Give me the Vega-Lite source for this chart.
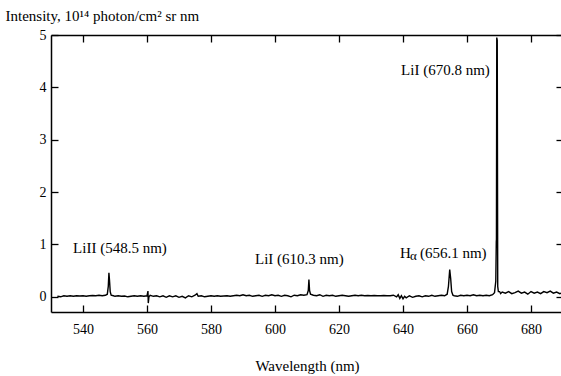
{
  "$schema": "https://vega.github.io/schema/vega-lite/v6.json",
  "autosize": {"type": "none"},
  "padding": {"left": 51, "top": 35, "right": 0, "bottom": 64},
  "width": 512,
  "height": 277,
  "background": "white",
  "config": {
    "view": {"stroke": null},
    "font": "Liberation Serif",
    "axis": {
      "domainColor": "black", "domainWidth": 1.5,
      "tickColor": "black", "tickWidth": 1.3, "tickSize": -7,
      "labelFont": "Liberation Serif", "labelFontSize": 14, "labelColor": "black",
      "titleFont": "Liberation Serif", "titleFontSize": 15, "titleFontWeight": "normal", "titleColor": "black",
      "grid": false
    }
  },
  "datasets": {
    "spectrum": [
      {"wl": 532, "I": 0.01}, {"wl": 533, "I": 0.0}, {"wl": 534, "I": 0.02}, {"wl": 535, "I": 0.01}, {"wl": 536, "I": 0.02},
      {"wl": 537, "I": 0.01}, {"wl": 538, "I": 0.02}, {"wl": 539, "I": 0.015}, {"wl": 540, "I": 0.02}, {"wl": 541, "I": 0.01},
      {"wl": 542, "I": 0.02}, {"wl": 543, "I": 0.025}, {"wl": 544, "I": 0.02}, {"wl": 545, "I": 0.03}, {"wl": 546, "I": 0.02},
      {"wl": 547, "I": 0.03}, {"wl": 547.6, "I": 0.05}, {"wl": 547.9, "I": 0.2}, {"wl": 548.1, "I": 0.46}, {"wl": 548.3, "I": 0.3},
      {"wl": 548.5, "I": 0.1}, {"wl": 548.8, "I": 0.03}, {"wl": 549.5, "I": 0.02}, {"wl": 550, "I": 0.01}, {"wl": 551, "I": 0.02},
      {"wl": 552, "I": 0.01}, {"wl": 553, "I": 0.015}, {"wl": 554, "I": 0.0}, {"wl": 555, "I": 0.01}, {"wl": 556, "I": 0.02},
      {"wl": 557, "I": 0.01}, {"wl": 558, "I": 0.02}, {"wl": 559, "I": 0.01}, {"wl": 560, "I": 0.02}, {"wl": 560.3, "I": 0.11},
      {"wl": 560.4, "I": -0.12}, {"wl": 560.6, "I": 0.0}, {"wl": 561, "I": 0.03}, {"wl": 562, "I": 0.01}, {"wl": 563, "I": 0.02},
      {"wl": 564, "I": 0.0}, {"wl": 565, "I": 0.02}, {"wl": 566, "I": -0.01}, {"wl": 567, "I": 0.02}, {"wl": 568, "I": 0.0},
      {"wl": 569, "I": 0.02}, {"wl": 570, "I": -0.01}, {"wl": 571, "I": 0.01}, {"wl": 572, "I": -0.02}, {"wl": 573, "I": 0.02},
      {"wl": 574, "I": 0.0}, {"wl": 575, "I": 0.03}, {"wl": 575.6, "I": 0.06}, {"wl": 576, "I": 0.01}, {"wl": 577, "I": 0.02},
      {"wl": 578, "I": 0.0}, {"wl": 579, "I": 0.01}, {"wl": 580, "I": 0.02}, {"wl": 581, "I": 0.01}, {"wl": 582, "I": 0.02},
      {"wl": 583, "I": 0.01}, {"wl": 584, "I": 0.015}, {"wl": 585, "I": 0.02}, {"wl": 586, "I": 0.01}, {"wl": 587, "I": 0.02},
      {"wl": 588, "I": 0.03}, {"wl": 589, "I": 0.02}, {"wl": 590, "I": 0.04}, {"wl": 591, "I": 0.02}, {"wl": 592, "I": 0.03},
      {"wl": 593, "I": 0.01}, {"wl": 594, "I": 0.02}, {"wl": 595, "I": 0.03}, {"wl": 596, "I": 0.01}, {"wl": 597, "I": 0.03},
      {"wl": 598, "I": 0.02}, {"wl": 599, "I": 0.04}, {"wl": 600, "I": 0.02}, {"wl": 601, "I": 0.03}, {"wl": 602, "I": 0.01},
      {"wl": 603, "I": 0.03}, {"wl": 604, "I": 0.02}, {"wl": 605, "I": 0.0}, {"wl": 606, "I": 0.03}, {"wl": 607, "I": 0.02},
      {"wl": 608, "I": 0.04}, {"wl": 609, "I": 0.03}, {"wl": 610, "I": 0.04}, {"wl": 610.4, "I": 0.12}, {"wl": 610.6, "I": 0.33},
      {"wl": 610.8, "I": 0.12}, {"wl": 611.1, "I": 0.05}, {"wl": 612, "I": 0.03}, {"wl": 613, "I": 0.02}, {"wl": 614, "I": 0.04},
      {"wl": 615, "I": 0.01}, {"wl": 616, "I": 0.03}, {"wl": 617, "I": 0.02}, {"wl": 618, "I": 0.03}, {"wl": 619, "I": 0.01},
      {"wl": 620, "I": 0.02}, {"wl": 621, "I": 0.03}, {"wl": 622, "I": 0.02}, {"wl": 623, "I": 0.01}, {"wl": 624, "I": 0.02},
      {"wl": 625, "I": 0.03}, {"wl": 626, "I": 0.02}, {"wl": 627, "I": 0.03}, {"wl": 628, "I": 0.02}, {"wl": 629, "I": 0.025},
      {"wl": 630, "I": 0.02}, {"wl": 631, "I": 0.025}, {"wl": 632, "I": 0.02}, {"wl": 633, "I": 0.02}, {"wl": 634, "I": 0.025},
      {"wl": 635, "I": 0.02}, {"wl": 636, "I": 0.02}, {"wl": 637, "I": 0.03}, {"wl": 638, "I": 0.0}, {"wl": 638.5, "I": 0.04},
      {"wl": 639, "I": -0.03}, {"wl": 639.5, "I": 0.02}, {"wl": 640, "I": -0.04}, {"wl": 640.5, "I": 0.01}, {"wl": 641, "I": -0.02},
      {"wl": 642, "I": 0.02}, {"wl": 643, "I": -0.01}, {"wl": 644, "I": 0.01}, {"wl": 645, "I": 0.02}, {"wl": 646, "I": 0.0},
      {"wl": 647, "I": 0.02}, {"wl": 648, "I": 0.01}, {"wl": 649, "I": 0.03}, {"wl": 650, "I": 0.01}, {"wl": 651, "I": 0.02},
      {"wl": 652, "I": 0.03}, {"wl": 653, "I": 0.02}, {"wl": 653.8, "I": 0.05}, {"wl": 654.2, "I": 0.2}, {"wl": 654.6, "I": 0.52},
      {"wl": 654.9, "I": 0.35}, {"wl": 655.2, "I": 0.1}, {"wl": 655.6, "I": 0.03}, {"wl": 656, "I": 0.02}, {"wl": 657, "I": 0.01},
      {"wl": 658, "I": 0.03}, {"wl": 659, "I": 0.02}, {"wl": 660, "I": 0.03}, {"wl": 661, "I": 0.02}, {"wl": 662, "I": 0.04},
      {"wl": 663, "I": 0.02}, {"wl": 664, "I": 0.03}, {"wl": 665, "I": 0.02}, {"wl": 666, "I": 0.03}, {"wl": 667, "I": 0.02},
      {"wl": 668, "I": 0.04}, {"wl": 668.6, "I": 0.08}, {"wl": 669.0, "I": 0.3}, {"wl": 669.15, "I": 1.05}, {"wl": 669.2, "I": 1.1},
      {"wl": 669.3, "I": 4.95}, {"wl": 669.45, "I": 4.9}, {"wl": 669.6, "I": 0.2}, {"wl": 669.8, "I": 0.1}, {"wl": 670.2, "I": 0.1},
      {"wl": 670.5, "I": 0.06}, {"wl": 671, "I": 0.09}, {"wl": 672, "I": 0.07}, {"wl": 673, "I": 0.1}, {"wl": 674, "I": 0.06},
      {"wl": 675, "I": 0.08}, {"wl": 676, "I": 0.11}, {"wl": 677, "I": 0.07}, {"wl": 678, "I": 0.09}, {"wl": 679, "I": 0.05},
      {"wl": 680, "I": 0.1}, {"wl": 681, "I": 0.07}, {"wl": 682, "I": 0.09}, {"wl": 683, "I": 0.06}, {"wl": 684, "I": 0.1},
      {"wl": 685, "I": 0.08}, {"wl": 686, "I": 0.11}, {"wl": 687, "I": 0.07}, {"wl": 688, "I": 0.09}, {"wl": 689, "I": 0.06},
      {"wl": 690, "I": 0.08}
    ],
    "labels": [
      {"wl": 536.9, "I": 0.935, "text": "LiII (548.5 nm)"},
      {"wl": 593.75, "I": 0.725, "text": "LiI (610.3 nm)"},
      {"wl": 639.06, "I": 0.84, "text": "H"},
      {"wl": 645.3, "I": 0.84, "text": "(656.1 nm)"},
      {"wl": 639.4, "I": 4.33, "text": "LiI (670.8 nm)"}
    ],
    "sub": [
      {"wl": 642.2, "I": 0.84, "text": "α"}
    ]
  },
  "layer": [
    {
      "data": {"name": "spectrum"},
      "mark": {"type": "line", "color": "black", "strokeWidth": 1.4, "clip": true},
      "encoding": {
        "x": {"field": "wl", "type": "quantitative",
              "scale": {"domain": [530, 690], "nice": false, "zero": false},
              "axis": {"orient": "bottom", "values": [540, 560, 580, 600, 620, 640, 660, 680],
                       "labelPadding": 17, "title": "Wavelength (nm)", "titleY": 53, "titleBaseline": "middle"}},
        "y": {"field": "I", "type": "quantitative",
              "scale": {"domain": [-0.29, 5], "nice": false, "zero": false},
              "axis": {"orient": "left", "values": [0, 1, 2, 3, 4, 5], "labelPadding": 12,
                       "title": "Intensity, 10¹⁴ photon/cm² sr nm", "titleAngle": 0, "titleAlign": "left",
                       "titleBaseline": "middle", "titleX": -46, "titleY": -20}}
      }
    },
    {
      "data": {"name": "spectrum"},
      "mark": {"type": "point", "opacity": 0},
      "encoding": {
        "x": {"field": "wl", "type": "quantitative",
              "axis": {"orient": "top", "values": [540, 560, 580, 600, 620, 640, 660, 680], "labels": false, "title": null}},
        "y": {"field": "I", "type": "quantitative",
              "axis": {"orient": "right", "values": [0, 1, 2, 3, 4, 5], "labels": false, "title": null}}
      }
    },
    {
      "data": {"name": "labels"},
      "mark": {"type": "text", "align": "left", "baseline": "middle", "font": "Liberation Serif", "fontSize": 15, "color": "black"},
      "encoding": {
        "x": {"field": "wl", "type": "quantitative", "axis": null},
        "y": {"field": "I", "type": "quantitative", "axis": null},
        "text": {"field": "text"}
      }
    },
    {
      "data": {"name": "sub"},
      "mark": {"type": "text", "align": "left", "baseline": "middle", "font": "Liberation Serif", "fontSize": 13, "dy": 3, "color": "black"},
      "encoding": {
        "x": {"field": "wl", "type": "quantitative", "axis": null},
        "y": {"field": "I", "type": "quantitative", "axis": null},
        "text": {"field": "text"}
      }
    }
  ],
  "resolve": {"axis": {"x": "independent", "y": "independent"}}
}
